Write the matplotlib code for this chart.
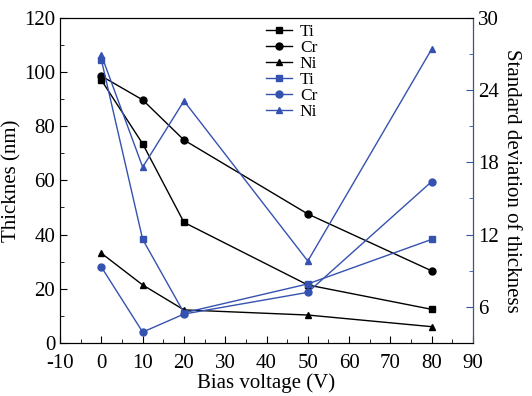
import matplotlib.pyplot as plt
from matplotlib.ticker import MultipleLocator

plt.rcParams['font.family'] = ['Liberation Serif', 'DejaVu Serif']
plt.rcParams['axes.unicode_minus'] = False

BLUE = '#3552b0'

bias = [0, 10, 20, 50, 80]

# thickness (nm), left axis
thick_ti = [97, 73.5, 44.5, 21.4, 12.4]
thick_cr = [98.5, 89.7, 74.9, 47.6, 26.6]
thick_ni = [33.1, 21.4, 12.2, 10.3, 6.0]

# standard deviation of thickness, right axis
std_ti = [26.5, 11.6, 5.5, 7.9, 11.6]
std_cr = [9.3, 3.9, 5.4, 7.2, 16.4]
std_ni = [26.9, 17.6, 23.1, 9.8, 27.4]

fig = plt.figure(figsize=(5.32, 3.96), dpi=100)
ax = fig.add_axes([0.113, 0.134, 0.776, 0.821])
ax2 = ax.twinx()

ms = 5
ax.plot(bias, thick_ti, '-s', color='black', lw=1, ms=ms, label='Ti')
ax.plot(bias, thick_cr, '-o', color='black', lw=1, ms=ms, label='Cr')
ax.plot(bias, thick_ni, '-^', color='black', lw=1, ms=ms, label='Ni')
ax2.plot(bias, std_ti, '-s', color=BLUE, lw=1, ms=ms, label='Ti')
ax2.plot(bias, std_cr, '-o', color=BLUE, lw=1, ms=ms, label='Cr')
ax2.plot(bias, std_ni, '-^', color=BLUE, lw=1, ms=ms, label='Ni')

ax.set_xlim(-10, 90)
ax.set_ylim(0, 120)
ax2.set_ylim(3, 30)
ax.xaxis.set_major_locator(MultipleLocator(10))
ax.xaxis.set_minor_locator(MultipleLocator(5))
ax.yaxis.set_major_locator(MultipleLocator(20))
ax.yaxis.set_minor_locator(MultipleLocator(10))
ax2.set_yticks([6, 12, 18, 24, 30])
ax2.yaxis.set_minor_locator(MultipleLocator(3))

ax.tick_params(which='both', direction='in', labelsize=15, top=False)
ax.tick_params(which='major', length=5)
ax.tick_params(which='minor', length=3)
ax.tick_params(axis='x', pad=8)
ax2.tick_params(which='both', direction='in', labelsize=15, color=BLUE)
ax2.tick_params(which='major', length=5)
ax2.tick_params(which='minor', length=3)
ax2.spines['right'].set_color(BLUE)

ax.set_xlabel('Bias voltage (V)', fontsize=15, labelpad=0)
ax.set_ylabel('Thicknes (nm)', fontsize=15, labelpad=2)
ax2.set_ylabel('Standard deviation of thickness', fontsize=15, rotation=270, labelpad=16)

h1, l1 = ax.get_legend_handles_labels()
h2, l2 = ax2.get_legend_handles_labels()
fig.legend(h1 + h2, l1 + l2, loc='upper left', bbox_to_anchor=(0.487, 0.958),
           frameon=False, fontsize=12.5, labelspacing=0, handlelength=1.5,
           handletextpad=0.45, borderaxespad=0)

fig.savefig('out.png', dpi=100)
